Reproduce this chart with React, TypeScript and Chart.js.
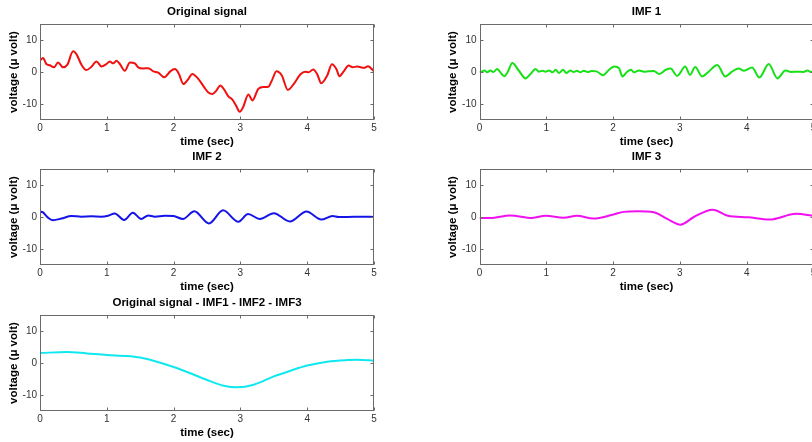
import React, { useEffect, useRef } from "react";
import { Chart, registerables } from "chart.js";

Chart.register(...registerables);

// ---------- data ----------
const X_TICKS = [0, 1, 2, 3, 4, 5];
const Y_TICKS = [-10, 0, 10];
const X_LABEL = "time (sec)";
const Y_LABEL = "voltage (\u03bc volt)";

const ORIG_T = [0.0, 0.045, 0.095, 0.145, 0.21, 0.27, 0.345, 0.41, 0.495, 0.545, 0.62, 0.695, 0.77, 0.845, 0.92, 0.995, 1.045, 1.095, 1.145, 1.195, 1.27, 1.345, 1.42, 1.47, 1.545, 1.62, 1.695, 1.77, 1.86, 1.95, 2.02, 2.08, 2.145, 2.22, 2.28, 2.36, 2.46, 2.52, 2.58, 2.64, 2.70, 2.76, 2.82, 2.88, 2.93, 2.99, 3.04, 3.12, 3.18, 3.27, 3.35, 3.42, 3.47, 3.54, 3.62, 3.71, 3.80, 3.90, 3.97, 4.02, 4.09, 4.15, 4.21, 4.30, 4.37, 4.44, 4.48, 4.55, 4.62, 4.68, 4.75, 4.85, 4.91, 5.0];
const ORIG_V = [3.6, 4.35, 2.5, 2.1, 1.45, 3.0, 1.45, 2.3, 6.45, 5.6, 2.3, 0.6, 1.65, 3.3, 1.75, 2.5, 3.3, 2.7, 3.5, 2.5, 0.4, 3.0, 2.7, 1.45, 1.1, 1.2, 0.2, -0.2, -1.65, 0.2, 0.9, -0.6, -3.75, -2.2, -0.6, -1.9, -4.8, -6.4, -6.9, -5.8, -4.2, -5.6, -7.6, -8.6, -10.3, -12.4, -11.0, -7.0, -8.9, -5.2, -4.7, -4.6, -2.7, 0.2, -1.1, -5.6, -3.7, -0.7, 0.1, -0.1, 0.8, -0.7, -3.5, -1.1, 2.4, 0.8, -1.3, 0.3, 2.0, 1.5, 1.7, 1.3, 1.8, 0.2];

const IMF1_T = [0.0, 0.04, 0.075, 0.115, 0.165, 0.205, 0.265, 0.30, 0.37, 0.43, 0.49, 0.59, 0.69, 0.76, 0.84, 0.89, 0.94, 0.99, 1.04, 1.09, 1.14, 1.19, 1.25, 1.30, 1.36, 1.41, 1.46, 1.51, 1.56, 1.62, 1.68, 1.75, 1.85, 1.94, 2.02, 2.09, 2.14, 2.21, 2.27, 2.31, 2.39, 2.46, 2.53, 2.61, 2.69, 2.79, 2.86, 2.96, 3.08, 3.15, 3.23, 3.33, 3.43, 3.56, 3.68, 3.78, 3.88, 3.96, 4.08, 4.19, 4.33, 4.46, 4.58, 4.66, 4.76, 4.85, 4.91, 4.96, 5.0];
const IMF1_V = [0.0, 0.2, 0.5, -0.1, 0.5, 0.0, 0.9, 0.2, -1.3, 0.3, 2.8, 0.4, -2.0, -0.7, 0.9, 0.1, 0.4, 0.1, 0.5, -0.1, 0.7, -0.3, 0.7, -0.3, 0.5, 0.0, 0.4, -0.1, 0.4, 0.0, 0.3, 0.2, -1.0, 0.7, 1.7, 1.1, -1.4, 0.1, 0.7, -0.1, 0.5, 0.1, 0.2, 0.3, -0.6, 0.7, 1.1, -1.2, 1.7, -0.9, 1.6, -1.4, 0.1, 2.2, -1.4, 0.1, 1.1, 0.4, 1.4, -1.7, 2.5, -2.0, 0.5, 0.0, 0.1, 0.0, 0.5, 0.0, 0.1];

const IMF2_T = [0.0, 0.04, 0.12, 0.19, 0.32, 0.47, 0.62, 0.77, 0.92, 1.02, 1.12, 1.26, 1.39, 1.515, 1.62, 1.72, 1.87, 2.0, 2.14, 2.31, 2.53, 2.74, 2.97, 3.115, 3.29, 3.5, 3.74, 3.99, 4.21, 4.38, 4.47, 4.6, 4.8, 5.0];
const IMF2_V = [1.7, 1.5, -0.2, -1.0, -0.5, 0.3, 0.1, 0.2, 0.1, 0.4, 1.1, -0.9, 1.3, -0.6, 0.5, 0.1, 0.4, 0.3, -0.6, 1.8, -2.0, 2.1, -1.5, 0.9, -0.6, 1.2, -1.4, 1.7, -0.8, 0.3, 0.0, 0.0, 0.1, 0.0];

const IMF3_T = [0.0, 0.16, 0.46, 0.79, 0.99, 1.26, 1.46, 1.71, 1.99, 2.16, 2.36, 2.61, 2.81, 3.01, 3.21, 3.49, 3.72, 4.02, 4.34, 4.74, 5.0];
const IMF3_V = [-0.3, -0.3, 0.5, -0.3, 0.4, -0.2, 0.4, -0.5, 0.7, 1.6, 1.8, 1.5, -0.6, -2.4, 0.0, 2.3, 0.4, -0.1, -0.8, 1.0, 0.4];

const RES_T = [0.0, 0.4, 0.7, 1.0, 1.3, 1.5, 1.75, 2.0, 2.25, 2.5, 2.75, 2.95, 3.2, 3.5, 3.75, 4.0, 4.3, 4.6, 4.75, 5.0];
const RES_V = [3.1, 3.45, 3.0, 2.5, 2.2, 1.7, 0.4, -1.25, -3.2, -5.3, -7.1, -7.6, -6.8, -4.2, -2.4, -0.8, 0.4, 0.9, 1.0, 0.7];

// ---------- layout / style ----------
const FONT = "'Liberation Sans', Arial, Helvetica, sans-serif";
const CW = 400;
const CH = 156;
const PLOT_W = 334;

type PanelCfg = {
  title: string;
  t: number[];
  v: number[];
  color: string;
  left: number;
  top: number;
  yw: number;
};

const PANELS: PanelCfg[] = [
  { title: "Original signal", t: ORIG_T, v: ORIG_V, color: "#f01010", left: 0, top: 0, yw: 40 },
  { title: "IMF 1", t: IMF1_T, v: IMF1_V, color: "#18e018", left: 439, top: 0, yw: 40.5 },
  { title: "IMF 2", t: IMF2_T, v: IMF2_V, color: "#1414e8", left: 0, top: 145, yw: 40 },
  { title: "IMF 3", t: IMF3_T, v: IMF3_V, color: "#f010f0", left: 439, top: 145, yw: 40.5 },
  { title: "Original signal - IMF1 - IMF2 - IMF3", t: RES_T, v: RES_V, color: "#10e8f0", left: 0, top: 291, yw: 40 },
];

const framePlugin = {
  id: "matlabFrame",
  afterDatasetsDraw(chart: any) {
    const { ctx, chartArea: a, scales } = chart;
    const L = Math.round(a.left) + 0.5;
    const R = Math.round(a.right) - 0.5;
    const T = Math.round(a.top) + 0.5;
    const B = Math.round(a.bottom) - 0.5;
    ctx.save();
    ctx.strokeStyle = "#6a6a6a";
    ctx.lineWidth = 1;
    ctx.strokeRect(L, T, R - L, B - T);
    const tl = 3;
    ctx.beginPath();
    for (const v of X_TICKS) {
      const x = Math.round(scales.x.getPixelForValue(v)) + 0.5;
      ctx.moveTo(x, B);
      ctx.lineTo(x, B - tl);
      ctx.moveTo(x, T);
      ctx.lineTo(x, T + tl);
    }
    for (const v of Y_TICKS) {
      const y = Math.round(scales.y.getPixelForValue(v)) + 0.5;
      ctx.moveTo(L, y);
      ctx.lineTo(L + tl, y);
      ctx.moveTo(R, y);
      ctx.lineTo(R - tl, y);
    }
    ctx.stroke();
    ctx.restore();
  },
};

function Panel({ cfg }: { cfg: PanelCfg }) {
  const ref = useRef<HTMLCanvasElement>(null);
  useEffect(() => {
    const canvas = ref.current!;
    const chart = new Chart(canvas, {
      type: "line",
      data: {
        datasets: [
          {
            data: cfg.t.map((x, i) => ({ x, y: cfg.v[i] })),
            borderColor: cfg.color,
            borderWidth: 2,
            pointRadius: 0,
            cubicInterpolationMode: "monotone",
            fill: false,
          },
        ],
      },
      options: {
        responsive: false,
        animation: false,
        events: [],
        layout: { padding: { left: 0, top: 0, bottom: 0, right: CW - cfg.yw - PLOT_W } },
        plugins: {
          legend: { display: false },
          tooltip: { enabled: false },
          title: {
            display: true,
            text: cfg.title,
            fullSize: false,
            color: "#000",
            font: { family: FONT, size: 11.5, weight: "bold", lineHeight: 1.2 },
            padding: { top: 5.1, bottom: 5.1 },
          },
        },
        scales: {
          x: {
            type: "linear",
            min: 0,
            max: 5,
            afterBuildTicks: (s: any) => {
              s.ticks = X_TICKS.map((value) => ({ value }));
            },
            afterFit: (s: any) => {
              s.height = 36;
            },
            grid: { display: false, drawTicks: false },
            border: { display: false },
            ticks: {
              autoSkip: false,
              maxRotation: 0,
              padding: 2.5,
              color: "#333",
              font: { family: FONT, size: 10, lineHeight: 1.2 },
            },
            title: {
              display: true,
              text: X_LABEL,
              color: "#000",
              font: { family: FONT, size: 11.5, weight: "bold", lineHeight: 1.2 },
              padding: { top: 0, bottom: 7.5 },
            },
          },
          y: {
            type: "linear",
            min: -15,
            max: 15,
            afterBuildTicks: (s: any) => {
              s.ticks = Y_TICKS.map((value) => ({ value }));
            },
            afterFit: (s: any) => {
              s.width = cfg.yw;
            },
            grid: { display: false, drawTicks: false },
            border: { display: false },
            ticks: {
              padding: 3,
              color: "#333",
              font: { family: FONT, size: 10, lineHeight: 1.2 },
            },
            title: {
              display: true,
              text: Y_LABEL,
              color: "#000",
              font: { family: FONT, size: 11.5, weight: "bold", lineHeight: 1.2 },
              padding: { top: 7, bottom: 0 },
            },
          },
        },
      },
      plugins: [framePlugin],
    } as any);
    return () => chart.destroy();
  }, [cfg]);
  return (
    <canvas
      ref={ref}
      width={CW}
      height={CH}
      style={{ position: "absolute", left: cfg.left, top: cfg.top, width: CW, height: CH }}
    />
  );
}

export default function App() {
  return (
    <div
      style={{
        position: "fixed",
        left: 0,
        top: 0,
        width: 812,
        height: 442,
        overflow: "hidden",
        background: "#fff",
      }}
    >
      {PANELS.map((p) => (
        <Panel key={p.title} cfg={p} />
      ))}
    </div>
  );
}
